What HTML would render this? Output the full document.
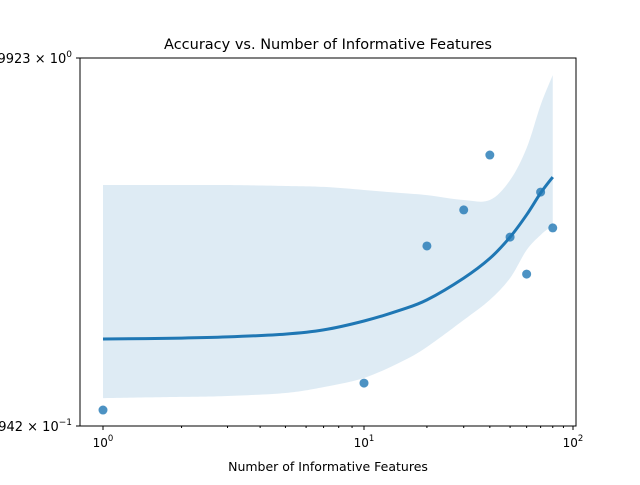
<!DOCTYPE html>
<html><head><meta charset="utf-8"><style>
body{margin:0;background:#fff;font-family:"Liberation Sans","DejaVu Sans",sans-serif}
svg text{font-family:"DejaVu Sans","Liberation Sans",sans-serif}
</style></head><body>
<svg id="c" width="640" height="480" viewBox="0 0 640 480"></svg>
<script>
const pointX=[1,10,20,30,40,50,60,70,80];
const pointY=[0.99488,0.99603,1.00188,1.00342,1.00576,1.00226,1.00068,1.00418,1.00265];
const fitX=[1,2,3,5,7,10,15,20,30,40,50,60,70,80];
const fitY=[0.99791,0.99795,0.99800,0.99812,0.99830,0.99868,0.99915,0.99958,1.00051,1.00135,1.00226,1.00321,1.00414,1.00482];
const upperY=[1.00448,1.00448,1.00448,1.00444,1.00440,1.00427,1.00414,1.00405,1.00384,1.00384,1.00469,1.00606,1.00789,1.00917];
const lowerY=[0.99539,0.99544,0.99548,0.99561,0.99586,0.99625,0.99693,0.99757,0.99872,0.99958,1.00051,1.00171,1.00235,1.00277];
const xTicks=[1,10,100];
const xTickLabels=["10","10","10"];
const xTickExp=["0","1","2"];
const yDomain=[0.9942,1.0099];
const L=80,R=576,T=58,B=426;
function sx(v){const l=Math.log10(v);return l<1?103+l*261:364+(l-1)*209;}
function sy(v){return B-(v-yDomain[0])/(yDomain[1]-yDomain[0])*(B-T);}
const NS="http://www.w3.org/2000/svg",svg=document.getElementById('c');
function mk(t,a,p){const e=document.createElementNS(NS,t);for(const k in a)e.setAttribute(k,a[k]);(p||svg).appendChild(e);return e;}
function smooth(pts){let s="";for(let i=0;i<pts.length-1;i++){const p0=pts[Math.max(i-1,0)],p1=pts[i],p2=pts[i+1],p3=pts[Math.min(i+2,pts.length-1)];
const c1=[p1[0]+(p2[0]-p0[0])/6,p1[1]+(p2[1]-p0[1])/6],c2=[p2[0]-(p3[0]-p1[0])/6,p2[1]-(p3[1]-p1[1])/6];
s+=" C"+c1+" "+c2+" "+p2;}return s;}
const up=fitX.map((x,i)=>[sx(x),sy(upperY[i])]);
const lo=fitX.map((x,i)=>[sx(x),sy(lowerY[i])]).reverse();
const ln=fitX.map((x,i)=>[sx(x),sy(fitY[i])]);
const band=mk('path',{d:"M"+up[0]+smooth(up)+" L"+lo[0]+smooth(lo)+"Z",fill:"#1f77b4","fill-opacity":0.15});


const line=mk('path',{d:"M"+ln[0]+smooth(ln),fill:"none",stroke:"#1f77b4","stroke-width":3});


pointX.forEach((x,i)=>{const c=mk('circle',{cx:sx(x),cy:sy(pointY[i]),r:4.5,fill:"#1f77b4","fill-opacity":0.8});

});
const fr=mk('rect',{x:L,y:T,width:R-L,height:B-T,fill:"none",stroke:"#000","stroke-width":1});


xTicks.forEach((t,i)=>{const x=sx(t);mk('line',{x1:x,x2:x,y1:B,y2:B+4,stroke:"#000"});
const tx=mk('text',{x:x,y:B+21,"font-size":12,"text-anchor":"middle"});


tx.innerHTML=xTickLabels[i]+'<tspan dy="-6" font-size="8.5">'+xTickExp[i]+'</tspan>';});
[2,3,4,5,6,7,8,9,20,30,40,50,60,70,80,90].forEach(t=>{const x=sx(t);mk('line',{x1:x,x2:x,y1:B,y2:B+2,stroke:"#000"});});
mk('line',{x1:L-4,x2:L,y1:T,y2:T,stroke:"#000"});mk('line',{x1:L-4,x2:L,y1:B,y2:B,stroke:"#000"});
const yt=mk('text',{x:L-8,y:T+5,"font-size":13,"text-anchor":"end"});yt.innerHTML='0.9923 × 10<tspan dy="-6" font-size="9">0</tspan>';


const yb=mk('text',{x:L-8,y:B+5,"font-size":13,"text-anchor":"end"});yb.innerHTML='9.942 × 10<tspan dy="-6" font-size="9">−1</tspan>';


const ti=mk('text',{x:328,y:49,"font-size":14.5,"text-anchor":"middle"});ti.textContent="Accuracy vs. Number of Informative Features";


const xl=mk('text',{x:328,y:471,"font-size":12.5,"text-anchor":"middle"});xl.textContent="Number of Informative Features";


</script>
</body></html>
